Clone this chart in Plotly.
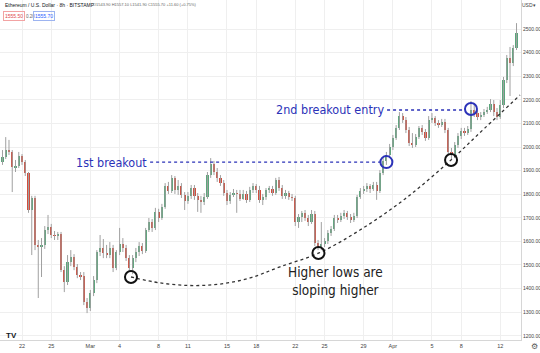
import pandas as pd
import plotly.graph_objects as go

# ---------------- data (ETH/USD 8h candles) ----------------
opens = [1936, 1958, 1987, 1979, 1915, 1919, 1962, 1936, 1890, 1733,
         1784, 1585, 1576, 1585, 1648, 1661, 1627, 1623, 1631, 1478,
         1427, 1512, 1534, 1491, 1457, 1453, 1343, 1317, 1381, 1436,
         1555, 1572, 1551, 1542, 1572, 1487, 1555, 1589, 1572, 1529,
         1487, 1529, 1555, 1580, 1559, 1648, 1682, 1657, 1725, 1699,
         1746, 1835, 1814, 1869, 1818, 1835, 1797, 1771, 1793, 1826,
         1793, 1776, 1767, 1788, 1881, 1928, 1894, 1869, 1847, 1805,
         1771, 1797, 1805, 1801, 1780, 1801, 1776, 1818, 1835, 1818,
         1776, 1788, 1818, 1822, 1805, 1860, 1826, 1793, 1805, 1788,
         1784, 1682, 1704, 1721, 1699, 1682, 1716, 1593, 1576, 1589,
         1602, 1636, 1653, 1699, 1691, 1708, 1721, 1704, 1691, 1708,
         1788, 1814, 1822, 1835, 1822, 1839, 1814, 1890, 1941, 1966,
         2000, 2038, 2081, 2131, 2114, 2072, 2017, 2009, 2042, 2081,
         2064, 2038, 2114, 2123, 2102, 2093, 2106, 2072, 1979, 1966,
         2009, 2047, 2068, 2059, 2076, 2157, 2144, 2127, 2136, 2148,
         2157, 2182, 2148, 2127, 2178, 2284, 2377, 2356, 2420]
highs = [1987, 2042, 2030, 1987, 1945, 1979, 1970, 1945, 1894, 1793,
         1793, 1606, 1614, 1665, 1712, 1674, 1644, 1640, 1640, 1495,
         1542, 1563, 1546, 1504, 1470, 1470, 1360, 1394, 1453, 1563,
         1627, 1610, 1585, 1597, 1585, 1563, 1657, 1614, 1585, 1542,
         1542, 1572, 1597, 1593, 1657, 1699, 1695, 1742, 1738, 1759,
         1847, 1852, 1881, 1877, 1860, 1847, 1809, 1809, 1839, 1839,
         1805, 1793, 1805, 1894, 1953, 1941, 1911, 1881, 1860, 1818,
         1809, 1822, 1818, 1818, 1818, 1814, 1831, 1847, 1843, 1835,
         1801, 1826, 1835, 1835, 1869, 1873, 1839, 1818, 1814, 1801,
         1793, 1716, 1729, 1733, 1712, 1733, 1729, 1606, 1682, 1614,
         1648, 1665, 1712, 1712, 1721, 1733, 1729, 1716, 1721, 1797,
         1826, 1835, 1847, 1843, 1852, 1852, 1902, 1953, 1979, 2013,
         2051, 2093, 2148, 2144, 2127, 2085, 2059, 2055, 2089, 2093,
         2076, 2131, 2144, 2131, 2114, 2119, 2119, 2081, 1996, 2021,
         2059, 2081, 2081, 2089, 2195, 2187, 2157, 2148, 2161, 2170,
         2203, 2199, 2165, 2199, 2297, 2390, 2424, 2432, 2525]
lows = [1924, 1949, 1966, 1809, 1894, 1911, 1924, 1877, 1721, 1542,
        1563, 1360, 1449, 1568, 1631, 1614, 1606, 1606, 1470, 1385,
        1415, 1495, 1478, 1444, 1436, 1330, 1296, 1305, 1368, 1423,
        1538, 1529, 1529, 1529, 1470, 1478, 1542, 1555, 1517, 1470,
        1461, 1512, 1538, 1546, 1551, 1640, 1640, 1648, 1682, 1691,
        1738, 1801, 1805, 1801, 1797, 1784, 1733, 1759, 1780, 1776,
        1725, 1721, 1754, 1780, 1869, 1881, 1852, 1835, 1793, 1754,
        1759, 1788, 1721, 1771, 1776, 1763, 1767, 1805, 1805, 1763,
        1754, 1776, 1805, 1793, 1797, 1814, 1780, 1780, 1776, 1771,
        1665, 1657, 1682, 1687, 1665, 1674, 1580, 1563, 1563, 1576,
        1589, 1623, 1644, 1678, 1682, 1695, 1691, 1678, 1682, 1699,
        1780, 1801, 1809, 1805, 1814, 1776, 1805, 1881, 1924, 1953,
        1987, 2030, 2072, 2102, 2059, 2004, 1996, 2000, 2034, 2051,
        2026, 2030, 2102, 2089, 2081, 2085, 2059, 1966, 1949, 1953,
        1996, 2034, 2047, 2051, 2064, 2127, 2114, 2114, 2127, 2140,
        2148, 2131, 2114, 2119, 2165, 2271, 2216, 2343, 2411]
closes = [1958, 1987, 1979, 1915, 1919, 1962, 1936, 1890, 1733, 1784,
          1585, 1576, 1585, 1648, 1661, 1627, 1623, 1631, 1478, 1427,
          1512, 1534, 1491, 1457, 1453, 1343, 1317, 1381, 1436, 1555,
          1572, 1551, 1542, 1572, 1487, 1555, 1589, 1572, 1529, 1487,
          1529, 1555, 1580, 1559, 1648, 1682, 1657, 1725, 1699, 1746,
          1835, 1814, 1869, 1818, 1835, 1797, 1771, 1793, 1826, 1793,
          1776, 1767, 1788, 1881, 1928, 1894, 1869, 1847, 1805, 1771,
          1797, 1805, 1801, 1780, 1801, 1776, 1818, 1835, 1818, 1776,
          1788, 1818, 1822, 1805, 1860, 1826, 1793, 1805, 1788, 1784,
          1682, 1704, 1721, 1699, 1682, 1716, 1593, 1576, 1589, 1602,
          1636, 1653, 1699, 1691, 1708, 1721, 1704, 1691, 1708, 1788,
          1814, 1822, 1835, 1822, 1839, 1814, 1890, 1941, 1966, 2000,
          2038, 2081, 2131, 2114, 2072, 2017, 2009, 2042, 2081, 2064,
          2038, 2114, 2123, 2102, 2093, 2106, 2072, 1979, 1966, 2009,
          2047, 2068, 2059, 2076, 2157, 2144, 2127, 2136, 2148, 2157,
          2182, 2148, 2127, 2178, 2284, 2377, 2356, 2420, 2483]
start_time = "2021-02-20 00:00"

# x-axis ticks
tick_dates = ["2021-02-22", "2021-02-25", "2021-03-01", "2021-03-04", "2021-03-08",
              "2021-03-11", "2021-03-15", "2021-03-18", "2021-03-22", "2021-03-25",
              "2021-03-29", "2021-04-01", "2021-04-05", "2021-04-08", "2021-04-12"]
tick_text = ["22", "25", "Mar", "4", "8", "11", "15", "18", "22", "25", "29", "Apr", "5", "8", "12"]
price_ticks = [1200, 1300, 1400, 1500, 1600, 1700, 1800, 1900, 2000, 2100, 2200, 2300, 2400, 2500]

# annotation data
curve_dates = ["2021-03-05 04:00", "2021-03-08 03:00", "2021-03-11 05:00", "2021-03-14 07:00",
               "2021-03-17 08:40", "2021-03-20 10:20", "2021-03-24 10:20", "2021-03-28 15:00",
               "2021-04-02 05:45", "2021-04-06 22:50", "2021-04-10 10:30", "2021-04-14 00:30"]
curve_prices = [1449, 1424, 1413, 1419, 1445, 1492, 1551, 1648, 1780, 1945, 2081, 2220]
low_dates = ["2021-03-05 04:00", "2021-03-24 09:00", "2021-04-06 23:00"]
low_prices = [1449, 1551, 1945]
breakout_dates = ["2021-03-31 08:00", "2021-04-09 00:00"]
breakout_prices = [1936, 2161]
line1_dates = ["2021-03-07 03:00", "2021-03-31 00:00"]
line1_level = 1936
line2_dates = ["2021-03-31 09:40", "2021-04-08 11:45"]
line2_level = 2157

# ---------------- figure ----------------
UP, DOWN, WICK = "#5aa67b", "#d14d3d", "#a0a0a0"
BLUE = "#2b32b8"
n = len(closes)
times = pd.date_range(start_time, periods=n, freq="8h")
bar_w = 0.66 * 8 * 3600 * 1000

fig = go.Figure()

wx, wy = [], []
for t, lo, hi in zip(times, lows, highs):
    wx += [t, t, None]
    wy += [lo, hi, None]
fig.add_trace(go.Scatter(x=wx, y=wy, mode="lines", line=dict(color=WICK, width=1),
                         hoverinfo="skip", showlegend=False))

for is_up, col in ((True, UP), (False, DOWN)):
    idx = [i for i in range(n) if (closes[i] >= opens[i]) == is_up]
    fig.add_trace(go.Bar(
        x=[times[i] for i in idx],
        base=[min(opens[i], closes[i]) for i in idx],
        y=[max(abs(closes[i] - opens[i]), 2) for i in idx],
        width=bar_w, marker=dict(color=col, line=dict(width=0)),
        showlegend=False))

# dotted rising curve of higher lows
fig.add_trace(go.Scatter(x=pd.to_datetime(curve_dates), y=curve_prices, mode="lines",
                         line=dict(color="#333333", width=1.3, dash="dot", shape="spline"),
                         showlegend=False))
# breakout levels
fig.add_trace(go.Scatter(x=pd.to_datetime(line1_dates), y=[line1_level] * 2, mode="lines",
                         line=dict(color=BLUE, width=1.4, dash="dot"), showlegend=False))
fig.add_trace(go.Scatter(x=pd.to_datetime(line2_dates), y=[line2_level] * 2, mode="lines",
                         line=dict(color=BLUE, width=1.4, dash="dot"), showlegend=False))
# circles
fig.add_trace(go.Scatter(x=pd.to_datetime(low_dates), y=low_prices, mode="markers",
                         marker=dict(symbol="circle-open", size=12, color="#111111",
                                     line=dict(width=2, color="#111111")), showlegend=False))
fig.add_trace(go.Scatter(x=pd.to_datetime(breakout_dates), y=breakout_prices, mode="markers",
                         marker=dict(symbol="circle-open", size=12, color=BLUE,
                                     line=dict(width=2, color=BLUE)), showlegend=False))

NARROW = "Liberation Sans Narrow, DejaVu Sans Condensed, Roboto, sans-serif"
ann = [
    dict(x=pd.Timestamp(line1_dates[0]), y=line1_level, text="1st breakout", xanchor="right",
         yanchor="middle", showarrow=False, font=dict(family=NARROW, size=12.5, color=BLUE), xshift=-1),
    dict(x=pd.Timestamp(line2_dates[0]), y=line2_level, text="2nd breakout entry", xanchor="right",
         yanchor="middle", showarrow=False, font=dict(family=NARROW, size=12.5, color=BLUE), xshift=-1),
    dict(x=pd.Timestamp("2021-03-26 01:40"), y=1432, text="Higher lows are<br>sloping higher",
         showarrow=False, xanchor="center", yanchor="middle",
         font=dict(family=NARROW, size=13.5, color="#222222")),
    # header
    dict(xref="paper", yref="paper", x=3 / 521, y=1.0, xanchor="left", yanchor="top",
         text="Ethereum / U.S. Dollar · 8h · BITSTAMP", showarrow=False,
         font=dict(family="Liberation Sans", size=5, color="#131722")),
    dict(xref="paper", yref="paper", x=91 / 521, y=1.0, xanchor="left", yanchor="top",
         text="O1543.90 H1557.10 L1541.90 C1555.70 +11.60 (+0.75%)", showarrow=False,
         font=dict(family="Liberation Sans", size=4, color="#666666")),
    dict(xref="paper", yref="paper", x=3 / 521, y=1 - 11 / 340, xanchor="left", yanchor="top",
         text="1555.50", showarrow=False, bordercolor="#f2a3a3", borderwidth=1, borderpad=1,
         font=dict(family="Liberation Sans", size=5, color="#e04a4a")),
    dict(xref="paper", yref="paper", x=24 / 521, y=1 - 12 / 340, xanchor="left", yanchor="top",
         text="0.20", showarrow=False, font=dict(family="Liberation Sans", size=4.5, color="#666666")),
    dict(xref="paper", yref="paper", x=33 / 521, y=1 - 11 / 340, xanchor="left", yanchor="top",
         text="1555.70", showarrow=False, bordercolor="#9db4f0", borderwidth=1, borderpad=1,
         font=dict(family="Liberation Sans", size=5, color="#2962ff")),
    dict(xref="paper", yref="paper", x=538 / 521, y=1.0, xanchor="right", yanchor="top",
         text="USD▾", showarrow=False, font=dict(family="Liberation Sans", size=5, color="#444444")),
    dict(xref="paper", yref="paper", x=4 / 521, y=1 - 329 / 340, xanchor="left", yanchor="top",
         text="<b>TV</b>", showarrow=False, font=dict(family="Liberation Sans", size=8, color="#131722")),
    dict(xref="paper", yref="paper", x=534 / 521, y=1 - 346 / 340, xanchor="center", yanchor="middle",
         text="⚙", showarrow=False, font=dict(family="DejaVu Sans", size=8, color="#555555")),
]

fig.update_layout(
    width=540, height=353,
    margin=dict(l=0, r=19, t=0, b=13),
    paper_bgcolor="white", plot_bgcolor="white",
    barmode="overlay", bargap=0,
    showlegend=False,
    annotations=ann,
    font=dict(family="Liberation Sans", color="#333333"),
)
fig.update_xaxes(
    type="date",
    range=[pd.Timestamp("2021-02-19 17:54"), pd.Timestamp("2021-04-14 03:00")],
    tickvals=pd.to_datetime(tick_dates), ticktext=tick_text,
    showgrid=True, gridcolor="#efefef", gridwidth=1,
    showline=True, linecolor="#d6d6d6", linewidth=1,
    ticks="", tickfont=dict(size=5.5, color="#444444"),
    zeroline=False, fixedrange=True,
)
fig.update_yaxes(
    side="right", range=[1182, 2623],
    tickvals=price_ticks, tickformat=".2f",
    showgrid=True, gridcolor="#efefef", gridwidth=1,
    showline=True, linecolor="#d6d6d6", linewidth=1,
    ticks="", tickfont=dict(size=5, color="#444444"),
    zeroline=False, fixedrange=True,
)

fig.write_html("out.html")
